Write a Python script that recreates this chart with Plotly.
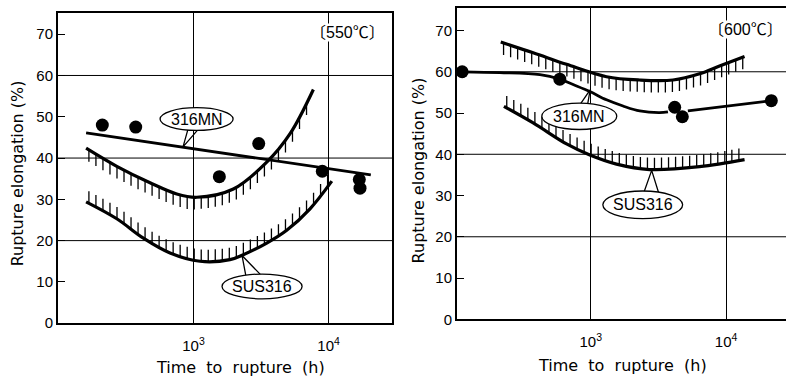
import numpy as np
import plotly.graph_objects as go

# ---------------- data ----------------
# 550 C panel
t550_mn_pts = [211, 373, 1553, 3040, 8990, 16900, 17100]
e550_mn_pts = [48.0, 47.5, 35.5, 43.5, 36.8, 34.8, 32.7]
t550_mn_line = [160, 20560]
e550_mn_line = [46.1, 35.9]
t550_upper = [160, 270, 476, 751, 1056, 1972, 3485, 5190, 7720]
e550_upper = [42.4, 38.0, 34.0, 31.3, 30.5, 32.5, 39.0, 45.9, 56.6]
t550_lower = [160, 270, 425, 670, 1117, 1862, 2340, 3485, 4900, 7290, 10570]
e550_lower = [29.4, 25.3, 20.6, 17.0, 15.0, 15.4, 16.6, 19.4, 22.5, 27.7, 34.4]

# 600 C panel
t600_mn_pts = [112, 590, 4170, 4750, 21600]
e600_mn_pts = [60.0, 58.2, 51.4, 49.1, 53.0]
t600_mn_line_a = [112, 213, 421, 590, 740, 984, 1307, 1731, 2300, 3230, 3720]
e600_mn_line_a = [60.0, 59.8, 59.3, 58.2, 56.9, 55.2, 53.2, 51.7, 50.5, 50.1, 50.3]
t600_mn_line_b = [5220, 21600]
e600_mn_line_b = [50.5, 53.0]
t600_upper = [216, 375, 662, 1307, 2300, 4050, 6370, 8950, 13700]
e600_upper = [67.2, 64.6, 61.8, 58.8, 58.0, 58.0, 59.5, 61.4, 63.7]
t600_lower = [228, 375, 662, 984, 1549, 2723, 6370, 13700]
e600_lower = [51.6, 47.6, 42.5, 39.8, 37.6, 36.3, 37.0, 38.7]

y_ticks = [0, 10, 20, 30, 40, 50, 60, 70]
x_tickvals = [1000, 10000]
x_ticktext = ["10<sup>3</sup>", "10<sup>4</sup>"]
grid_y = [20, 40, 60]

# ---------------- axes geometry ----------------
W, H = 786, 388
AX = {
    "x": dict(domain=[58 / W, 392 / W], range=[1.996, 4.47]),
    "y": dict(domain=[1 - 330 / H, 1 - 13 / H], range=[0, 75.2]),
    "x2": dict(domain=[457 / W, 1.0], range=[2.011, 4.443]),
    "y2": dict(domain=[1 - 326 / H, 1 - 8 / H], range=[0, 75.5]),
}


def to_paper(axname, v):
    d, r = AX[axname]["domain"], AX[axname]["range"]
    return d[0] + (v - r[0]) / (r[1] - r[0]) * (d[1] - d[0])


# ---------------- helpers ----------------
fig = go.Figure()
HATCH_LEN = 2.9
HATCH_STEP = 0.052  # decades


def catmull(lx, y, n=40):
    P = np.column_stack([lx, y])
    P = np.vstack([2 * P[0] - P[1], P, 2 * P[-1] - P[-2]])
    out = []
    for i in range(1, len(P) - 2):
        p0, p1, p2, p3 = P[i - 1], P[i], P[i + 1], P[i + 2]
        s = np.linspace(0, 1, n, endpoint=False)[:, None]
        pts = 0.5 * ((2 * p1) + (-p0 + p2) * s + (2 * p0 - 5 * p1 + 4 * p2 - p3) * s ** 2
                     + (-p0 + 3 * p1 - 3 * p2 + p3) * s ** 3)
        out.append(pts)
    out.append(P[-2][None, :])
    return np.vstack(out)


def add_band_curve(t, e, xa, ya, direction):
    lx = np.log10(t)
    dense = catmull(lx, np.asarray(e, float))
    order = np.argsort(dense[:, 0])
    hx = np.arange(lx[0] + HATCH_STEP * 0.4, lx[-1], HATCH_STEP)
    hy = np.interp(hx, dense[order, 0], dense[order, 1])
    xs, ys = [], []
    for a, b in zip(hx, hy):
        xs += [10 ** a, 10 ** a, None]
        ys += [b, b + direction * HATCH_LEN, None]
    fig.add_trace(go.Scatter(x=xs, y=ys, mode="lines", line=dict(color="black", width=1.3),
                             xaxis=xa, yaxis=ya, showlegend=False, hoverinfo="skip"))
    fig.add_trace(go.Scatter(x=t, y=e, mode="lines",
                             line=dict(color="black", width=3.2, shape="spline", smoothing=1),
                             xaxis=xa, yaxis=ya, showlegend=False, hoverinfo="skip"))


def add_line(t, e, xa, ya, width=2.8, spline=True):
    fig.add_trace(go.Scatter(x=t, y=e, mode="lines",
                             line=dict(color="black", width=width,
                                       shape="spline" if spline else "linear"),
                             xaxis=xa, yaxis=ya, showlegend=False, hoverinfo="skip"))


def add_dots(t, e, xa, ya):
    fig.add_trace(go.Scatter(x=t, y=e, mode="markers", marker=dict(color="black", size=13),
                             xaxis=xa, yaxis=ya, showlegend=False, hoverinfo="skip"))


# ---------------- 550 C ----------------
add_band_curve(t550_upper, e550_upper, "x", "y", -1)
add_band_curve(t550_lower, e550_lower, "x", "y", +1)
add_line(t550_mn_line, e550_mn_line, "x", "y", spline=False)
add_dots(t550_mn_pts, e550_mn_pts, "x", "y")

# ---------------- 600 C ----------------
add_band_curve(t600_upper, e600_upper, "x2", "y2", -1)
add_band_curve(t600_lower, e600_lower, "x2", "y2", +1)
add_line(t600_mn_line_a, e600_mn_line_a, "x2", "y2")
add_line(t600_mn_line_b, e600_mn_line_b, "x2", "y2", spline=False)
add_dots(t600_mn_pts, e600_mn_pts, "x2", "y2")

# ---------------- callouts ----------------
# (xa, ya, ellipse log-x0, log-x1, y0, y1, label, tail [(logx, y) A, tip, B])
callouts = [
    ("x", "y", 2.752, 3.293, 46.7, 52.2, "316MN", [(2.959, 47.0), (2.922, 42.7), (3.041, 47.2)]),
    ("x", "y", 3.211, 3.804, 5.9, 11.9, "SUS316", [(3.389, 11.2), (3.359, 16.4), (3.507, 11.4)]),
    ("x2", "y2", 2.638, 3.192, 46.0, 52.4, "316MN", [(2.915, 51.8), (2.995, 55.6), (2.975, 51.8)]),
    ("x2", "y2", 3.089, 3.679, 24.4, 31.1, "SUS316", [(3.391, 30.6), (3.450, 36.1), (3.502, 30.6)]),
]
shapes = []
annotations = []
for xa, ya, x0, x1, y0, y1, label, tail in callouts:
    fig.add_trace(go.Scatter(x=[10 ** p[0] for p in tail], y=[p[1] for p in tail], mode="lines",
                             line=dict(color="black", width=1.3), xaxis=xa, yaxis=ya,
                             showlegend=False, hoverinfo="skip"))
    px0, px1 = to_paper(xa, x0), to_paper(xa, x1)
    py0, py1 = to_paper(ya, y0), to_paper(ya, y1)
    shapes.append(dict(type="circle", xref="paper", yref="paper", x0=px0, x1=px1, y0=py0, y1=py1,
                       fillcolor="white", line=dict(color="black", width=1.3), layer="above"))
    annotations.append(dict(xref="paper", yref="paper", x=(px0 + px1) / 2, y=(py0 + py1) / 2,
                            xanchor="center", yanchor="middle", text=label, showarrow=False,
                            font=dict(family="Liberation Sans", size=16, color="black")))

# grid lines at 20/40/60
for ya, xd in (("y", "x domain"), ("y2", "x2 domain")):
    for g in grid_y:
        shapes.append(dict(type="line", xref=xd, yref=ya, x0=0, x1=1, y0=g, y1=g,
                           line=dict(color="black", width=1), layer="below"))

# temperature labels
for x, y, txt in ((347, 33, "〔550℃〕"), (745, 30, "〔600℃〕")):
    annotations.append(dict(xref="paper", yref="paper", x=x / W, y=1 - y / H, text=txt,
                            xanchor="center", yanchor="middle", showarrow=False, bgcolor="white",
                            borderpad=0,
                            font=dict(family="Liberation Sans, Noto Sans CJK JP", size=16,
                                      color="black")))

title_font = dict(family="DejaVu Sans", size=16, color="black")
for x, y in ((17, 177), (418, 174)):
    annotations.append(dict(xref="paper", yref="paper", x=x / W, y=1 - y / H,
                            xanchor="center", yanchor="middle",
                            text="Rupture elongation (%)", textangle=-90, showarrow=False,
                            font=title_font))
for x, y in ((240, 375), (622, 373)):
    annotations.append(dict(xref="paper", yref="paper", x=x / W, y=1 - y / H,
                            xanchor="center", yanchor="middle",
                            text="Time  to  rupture  (h)", showarrow=False, font=title_font))

tick_font = dict(family="Liberation Sans", size=15, color="black")
xcommon = dict(type="log", tickvals=x_tickvals, ticktext=x_ticktext, showgrid=True,
               gridcolor="black", gridwidth=1, showline=True, linecolor="black", linewidth=2,
               ticks="", zeroline=False, tickfont=tick_font, fixedrange=True,
               ticklabelstandoff=8)
ycommon = dict(tickvals=y_ticks, showgrid=False, showline=True, linecolor="black", linewidth=2,
               ticks="inside", ticklen=7, tickwidth=1.3, tickcolor="black", zeroline=False,
               tickfont=tick_font, fixedrange=True)

fig.update_layout(
    width=W, height=H, margin=dict(l=0, r=0, t=0, b=0),
    paper_bgcolor="white", plot_bgcolor="white", showlegend=False,
    xaxis=dict(xcommon, **AX["x"], anchor="y", mirror=True),
    yaxis=dict(ycommon, **AX["y"], anchor="x", mirror=True),
    xaxis2=dict(xcommon, **AX["x2"], anchor="y2", mirror=True),
    yaxis2=dict(ycommon, **AX["y2"], anchor="x2", mirror=False),
    shapes=shapes, annotations=annotations,
)

fig.write_html("out.html")
